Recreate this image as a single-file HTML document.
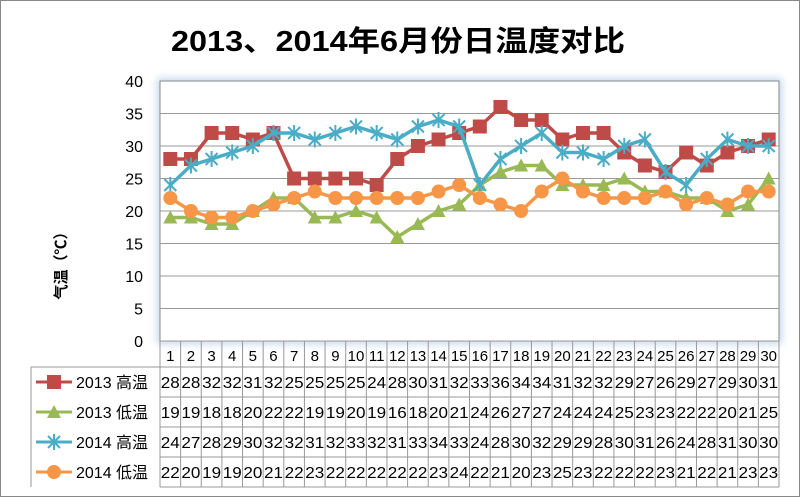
<!DOCTYPE html>
<html><head><meta charset="utf-8"><style>
html,body{margin:0;padding:0;background:#fff;}
svg{display:block;font-family:"Liberation Sans","Noto Sans CJK SC",sans-serif;}
</style></head><body>
<svg id="s" width="800" height="497" viewBox="0 0 800 497" xmlns="http://www.w3.org/2000/svg">
<defs><filter id="sh" x="-5%" y="-5%" width="110%" height="110%"><feGaussianBlur stdDeviation="4"/></filter></defs>
<rect x="0.5" y="0.5" width="799" height="496" fill="#fff" stroke="#888"/>
<text x="398" y="51" text-anchor="middle" font-size="29" font-weight="bold" textLength="454" lengthAdjust="spacingAndGlyphs">2013、2014年6月份日温度对比</text>
<rect x="157" y="78" width="625" height="266" fill="#c6d9ee" filter="url(#sh)"/>
<rect x="160" y="81" width="619" height="260" fill="#fff" stroke="#888"/>
<g id="g"></g>
<text transform="translate(66,262) rotate(-90)" text-anchor="middle" font-size="15" font-weight="bold">气温（℃）</text>
</svg>
<script>
const d=[
[28,28,32,32,31,32,25,25,25,25,24,28,30,31,32,33,36,34,34,31,32,32,29,27,26,29,27,29,30,31],
[19,19,18,18,20,22,22,19,19,20,19,16,18,20,21,24,26,27,27,24,24,24,25,23,23,22,22,20,21,25],
[24,27,28,29,30,32,32,31,32,33,32,31,33,34,33,24,28,30,32,29,29,28,30,31,26,24,28,31,30,30],
[22,20,19,19,20,21,22,23,22,22,22,22,22,23,24,22,21,20,23,25,23,22,22,22,23,21,22,21,23,23]];
const col=['#be4b48','#98b954','#4bacc6','#f79646'];
const names=['2013 高温','2013 低温','2014 高温','2014 低温'];
const L=160,R=779,T=81,B=341,cw=(R-L)/30;
const X=i=>L+cw*(i+0.5),Y=v=>B-(v/40)*(B-T);
let h='';
for(let v=0;v<=40;v+=5){const y=Y(v);if(v>0&&v<40)h+=`<line x1="${L}" x2="${R}" y1="${y}" y2="${y}" stroke="#999" stroke-width="1"/>`;
h+=`<text x="143" y="${y+6}" text-anchor="end" font-size="16">${v}</text>`;}
function mk(k,x,y,c){
 if(k==0)return `<rect x="${x-7}" y="${y-7}" width="14" height="14" fill="${c}"/>`;
 if(k==1)return `<polygon points="${x},${y-7} ${x+7},${y+6} ${x-7},${y+6}" fill="${c}"/>`;
 if(k==2)return `<path d="M${x-6} ${y-6}L${x+6} ${y+6}M${x-6} ${y+6}L${x+6} ${y-6}M${x} ${y-8}V${y+8}" stroke="${c}" stroke-width="2"/>`;
 return `<circle cx="${x}" cy="${y}" r="7" fill="${c}"/>`;}
for(let s=0;s<4;s++){
 h+=`<polyline fill="none" stroke="${col[s]}" stroke-width="3.5" stroke-linejoin="round" points="${d[s].map((v,i)=>X(i)+','+Y(v)).join(' ')}"/>`;
 d[s].forEach((v,i)=>h+=mk(s,X(i),Y(v),col[s]));}
// table
const rows=[341,367,397,427,457,487];
h+=`<g stroke="#999" stroke-width="1" fill="none">`;
h+=`<line x1="${L}" x2="${R}" y1="341" y2="341"/>`;
for(let r=1;r<6;r++)h+=`<line x1="${r==1?31:L}" x2="${R}" y1="${rows[r]}" y2="${rows[r]}"/>`;
h+=`<line x1="31" x2="31" y1="367" y2="487"/>`;
for(let i=0;i<=30;i++)h+=`<line x1="${L+cw*i}" x2="${L+cw*i}" y1="341" y2="487"/>`;
h+=`</g>`;
for(let i=0;i<30;i++)h+=`<text x="${X(i)}" y="361" text-anchor="middle" font-size="15">${i+1}</text>`;
for(let s=0;s<4;s++){const yc=(rows[s+1]+rows[s+2])/2;
 h+=`<line x1="36" x2="72" y1="${yc}" y2="${yc}" stroke="${col[s]}" stroke-width="3"/>`+mk(s,54,yc,col[s]);
 h+=`<text x="76" y="${yc+6}" font-size="16">${names[s]}</text>`;
 d[s].forEach((v,i)=>h+=`<text x="${X(i)}" y="${yc+6}" text-anchor="middle" font-size="15.5" textLength="19" lengthAdjust="spacingAndGlyphs">${v}</text>`);}
document.getElementById('g').innerHTML=h;
</script>
</body></html>
